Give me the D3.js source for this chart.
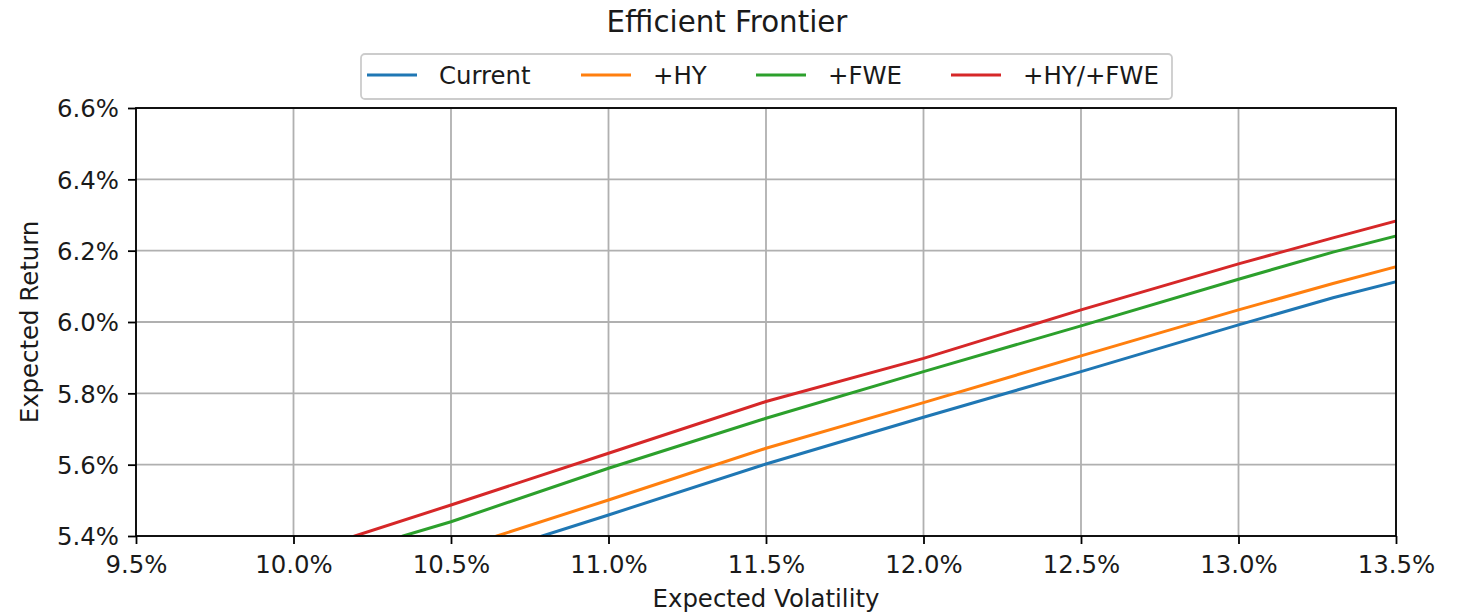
<!DOCTYPE html>
<html>
<head>
<meta charset="utf-8">
<script src="https://cdn.jsdelivr.net/npm/d3@7"></script>
<style>
  html, body { margin: 0; padding: 0; background: #fff; }
  svg { display: block; font-family: "DejaVu Sans", sans-serif; }
</style>
</head>
<body>
<svg id="chart" width="1458" height="613"></svg>
<script>
// ---- data (percent) ----
const seriesNames = ["Current", "+HY", "+FWE", "+HY/+FWE"];
const seriesColors = ["#1f77b4", "#ff7f0e", "#2ca02c", "#d62728"];

const currentVol = [10.79, 11.0, 11.5, 12.0, 12.5, 13.0, 13.3, 13.5];
const currentRet = [5.40, 5.459, 5.602, 5.733, 5.861, 5.992, 6.068, 6.113];

const hyVol = [10.646, 11.0, 11.5, 12.0, 12.5, 13.0, 13.3, 13.5];
const hyRet = [5.40, 5.501, 5.646, 5.774, 5.905, 6.034, 6.108, 6.155];

const fweVol = [10.348, 10.5, 11.0, 11.5, 12.0, 12.5, 13.0, 13.3, 13.5];
const fweRet = [5.40, 5.44, 5.59, 5.73, 5.861, 5.989, 6.12, 6.196, 6.241];

const hyFweVol = [10.195, 10.5, 11.0, 11.5, 12.0, 12.5, 13.0, 13.3, 13.5];
const hyFweRet = [5.40, 5.487, 5.632, 5.777, 5.898, 6.034, 6.163, 6.236, 6.283];

const xTicks = [9.5, 10.0, 10.5, 11.0, 11.5, 12.0, 12.5, 13.0, 13.5];
const yTicks = [5.4, 5.6, 5.8, 6.0, 6.2, 6.4, 6.6];

const seriesVols = [currentVol, hyVol, fweVol, hyFweVol];
const seriesRets = [currentRet, hyRet, fweRet, hyFweRet];

// ---- layout ----
const svg = d3.select("#chart");
const L = 136, R = 1396, T = 108, B = 536;
const fs = 24.4;

const x = d3.scaleLinear().domain([9.5, 13.5]).range([L, R]);
const y = d3.scaleLinear().domain([5.4, 6.6]).range([B, T]);

// grid
const grid = svg.append("g");
grid.selectAll("line.gx").data(xTicks).join("line")
  .attr("x1", d => x(d)).attr("x2", d => x(d)).attr("y1", T).attr("y2", B)
  .attr("stroke", "#b0b0b0").attr("stroke-width", 1.8);
grid.selectAll("line.gy").data(yTicks).join("line")
  .attr("y1", d => y(d)).attr("y2", d => y(d)).attr("x1", L).attr("x2", R)
  .attr("stroke", "#b0b0b0").attr("stroke-width", 1.8);

// clip
svg.append("clipPath").attr("id", "clip").append("rect")
  .attr("x", L).attr("y", T).attr("width", R - L).attr("height", B - T);

const line = d3.line().x(d => x(d[0])).y(d => y(d[1]));
const lines = svg.append("g").attr("clip-path", "url(#clip)");
seriesNames.forEach((name, i) => {
  const pts = seriesVols[i].map((v, j) => [v, seriesRets[i][j]]);
  lines.append("path").datum(pts)
    .attr("d", line).attr("fill", "none")
    .attr("stroke", seriesColors[i]).attr("stroke-width", 3.0)
    .attr("stroke-linecap", "square");
});

// axes
const xAxis = svg.append("g").attr("transform", `translate(0,${B})`)
  .call(d3.axisBottom(x).tickValues(xTicks).tickSize(8).tickPadding(6)
    .tickFormat(d => d3.format(".1f")(d) + "%"));
const yAxis = svg.append("g").attr("transform", `translate(${L},0)`)
  .call(d3.axisLeft(y).tickValues(yTicks).tickSize(8).tickPadding(9)
    .tickFormat(d => d3.format(".1f")(d) + "%"));
[xAxis, yAxis].forEach(a => {
  a.select(".domain").remove();
  a.selectAll(".tick line").attr("stroke", "#000").attr("stroke-width", 1.8);
  a.selectAll(".tick text").attr("fill", "#1a1a1a").attr("font-size", fs)
    .attr("font-family", "DejaVu Sans");
});
xAxis.selectAll(".tick text").attr("dy", "0.95em");
yAxis.selectAll(".tick text").attr("dy", "0.36em");

// frame
svg.append("rect").attr("x", L).attr("y", T).attr("width", R - L).attr("height", B - T)
  .attr("fill", "none").attr("stroke", "#000").attr("stroke-width", 1.8);

// title & labels
svg.append("text").attr("x", 727).attr("y", 32).attr("text-anchor", "middle")
  .attr("font-size", 29.3).attr("fill", "#1a1a1a").text("Efficient Frontier");
svg.append("text").attr("x", (L + R) / 2).attr("y", 607).attr("text-anchor", "middle")
  .attr("font-size", fs).attr("fill", "#1a1a1a").text("Expected Volatility");
svg.append("text").attr("transform", `translate(38,${(T + B) / 2}) rotate(-90)`)
  .attr("text-anchor", "middle").attr("font-size", fs).attr("fill", "#1a1a1a").text("Expected Return");

// legend
const leg = svg.append("g");
leg.append("rect").attr("x", 361).attr("y", 54).attr("width", 811).attr("height", 45)
  .attr("rx", 4).attr("fill", "#fff").attr("fill-opacity", 0.8)
  .attr("stroke", "#cccccc").attr("stroke-width", 1.8);
const legX = [367, 581, 756, 951];
seriesNames.forEach((name, i) => {
  leg.append("line").attr("x1", legX[i]).attr("x2", legX[i] + 50)
    .attr("y1", 75).attr("y2", 75)
    .attr("stroke", seriesColors[i]).attr("stroke-width", 3.0);
  leg.append("text").attr("x", legX[i] + 72).attr("y", 84)
    .attr("font-size", fs).attr("fill", "#1a1a1a").text(name);
});
</script>
</body>
</html>
